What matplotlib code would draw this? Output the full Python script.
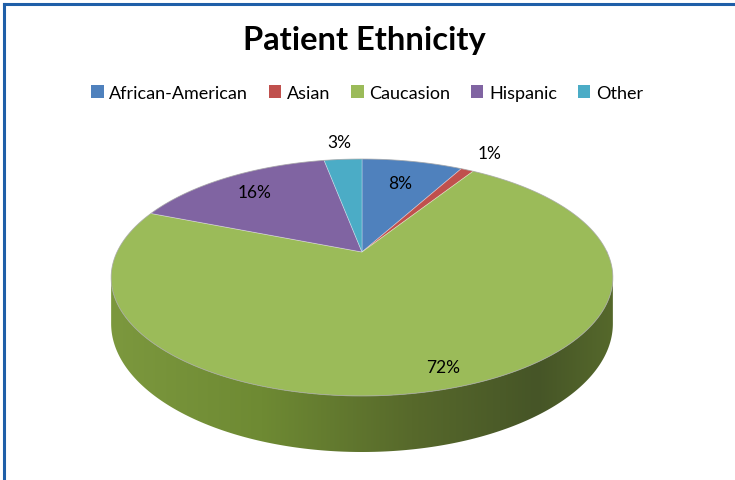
import numpy as np
import matplotlib
matplotlib.use("Agg")
import matplotlib.pyplot as plt
from matplotlib.patches import Polygon, Rectangle
from matplotlib.colors import LinearSegmentedColormap

# ---- data ----
title = "Patient Ethnicity"
categories = ["African-American", "Asian", "Caucasion", "Hispanic", "Other"]
values = [8, 1, 72, 16, 3]
colors = ["#4F81BD", "#C0504D", "#9BBB59", "#8064A2", "#4BACC6"]

# ---- style / geometry (pixels) ----
W, H = 735, 481
CX, CY = 362, 253          # pie vertex on screen
A, B, K = 245, 113, 0.215  # perspective ellipse params
DEPTH = 44
label_r = [0.73, 1.26, 0.88, 0.78, 1.23]
FONT = "Lato"

def project(u, v, h=0.0):
    w = 1 + K * v
    return CX + A * u / w, CY + (-B * v + DEPTH * h) / w

fig = plt.figure(figsize=(W / 100, H / 100), dpi=100)
ax = fig.add_axes([0, 0, 1, 1])
wedges, _ = ax.pie(values, startangle=90, counterclock=False, colors=colors)
ax.set_xlim(0, W)
ax.set_ylim(H, 0)
ax.set_aspect("auto")
ax.axis("off")

# side of the cylinder (front rim), shaded with the front slice colour
t_left = np.pi + np.arcsin(K)
t_right = 2 * np.pi - np.arcsin(K)
ts = np.linspace(t_left, t_right, 300)
top_pts = [project(np.cos(t), np.sin(t), 0) for t in ts]
bot_pts = [project(np.cos(t), np.sin(t), 1) for t in ts[::-1]]
side_poly = Polygon(top_pts + bot_pts, closed=True, facecolor="none", edgecolor="none")
ax.add_patch(side_poly)
side_cmap = LinearSegmentedColormap.from_list(
    "side", [(0.0, "#7c983e"), (0.3, "#6e8a33"), (0.6, "#57692b"),
             (0.85, "#465527"), (1.0, "#55682b")])
grad = np.linspace(0, 1, 256).reshape(1, -1)
xs = [p[0] for p in top_pts]
ys = [p[1] for p in top_pts + bot_pts]
im = ax.imshow(grad, cmap=side_cmap, extent=[min(xs), max(xs), max(ys), min(ys)],
               aspect="auto", zorder=1, interpolation="bilinear")
im.set_clip_path(side_poly)
ax.set_xlim(0, W)
ax.set_ylim(H, 0)

# top face: slices from the pie's angles, projected
for wdg in wedges:
    t1, t2 = np.radians(wdg.theta1), np.radians(wdg.theta2)
    n = max(4, int(abs(t2 - t1) / 0.01))
    arc = np.linspace(t1, t2, n)
    pts = [project(0, 0)] + [project(np.cos(t), np.sin(t)) for t in arc]
    ax.add_patch(Polygon(pts, closed=True, facecolor=wdg.get_facecolor(),
                         edgecolor=(1, 1, 1, 0.35), linewidth=0.6, zorder=2))
    wdg.remove()

# rim outline
tt = np.linspace(0, 2 * np.pi, 400)
rim = [project(np.cos(t), np.sin(t)) for t in tt]
ax.plot([p[0] for p in rim], [p[1] for p in rim], color="#8a8a8a", lw=0.6,
        alpha=0.6, zorder=3)

# data labels
start = 90.0
total = float(sum(values))
for val, rf in zip(values, label_r):
    mid = np.radians(start - val / total * 360 / 2)
    start -= val / total * 360
    x, y = project(rf * np.cos(mid), rf * np.sin(mid))
    ax.text(x, y, f"{val}%", ha="center", va="center", fontsize=12.5,
            family=FONT, color="#000000", zorder=4)

# title
fig.text(364 / W, 1 - 41 / H, title, ha="center", va="center",
         fontsize=23.5, fontweight="bold", family=FONT)

# legend
handles = [Rectangle((0, 0), 1, 1, facecolor=c) for c in colors]
leg = fig.legend(handles, categories, loc="center", ncol=5,
                 bbox_to_anchor=(367 / W, 1 - 94 / H), frameon=False,
                 prop={"family": FONT, "size": 13},
                 handlelength=0.7, handleheight=0.7, handletextpad=0.3,
                 columnspacing=1.15)

# chart border (blue frame)
fig.add_artist(plt.Line2D([4 / W, 1], [1 - 5 / H, 1 - 5 / H], color="#1f5fa8",
                          lw=2.2, transform=fig.transFigure))
fig.add_artist(plt.Line2D([4 / W, 4 / W], [0, 1 - 5 / H], color="#1f5fa8",
                          lw=2.2, transform=fig.transFigure))

fig.savefig("out.png", dpi=100)
